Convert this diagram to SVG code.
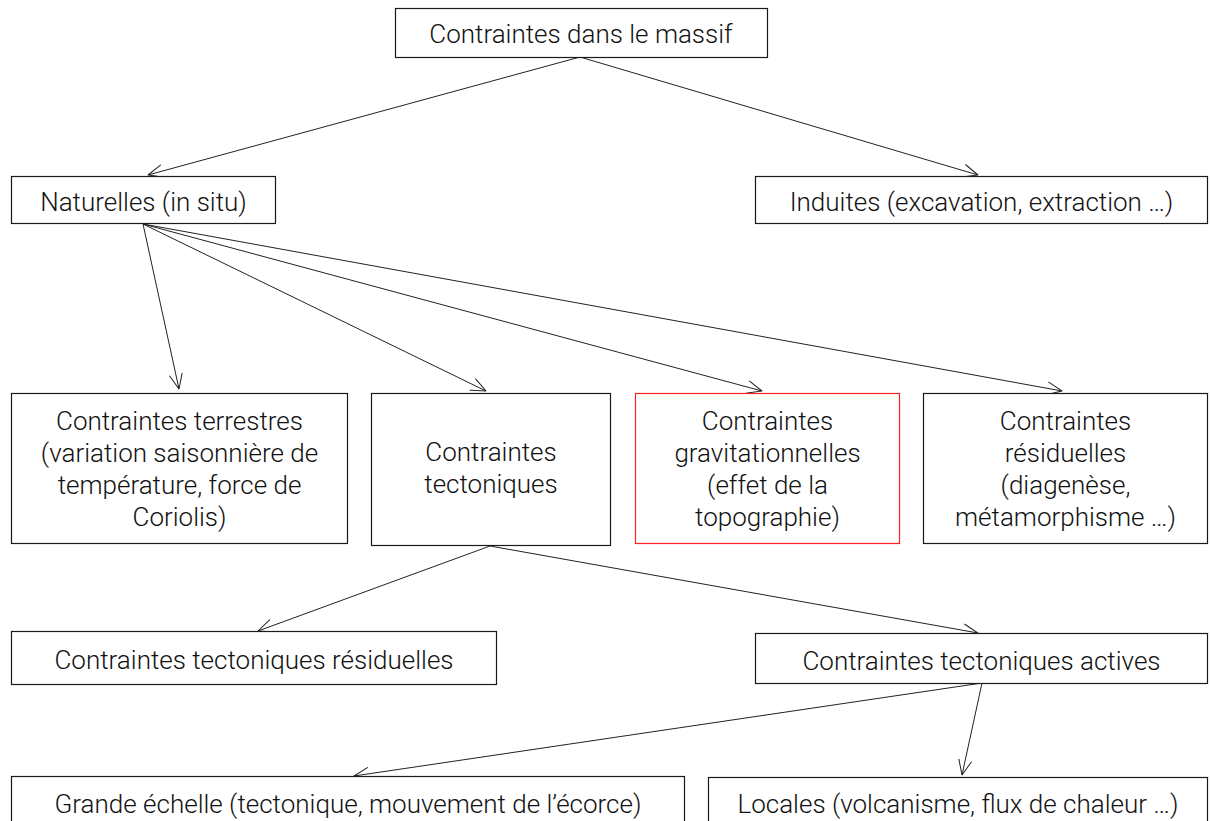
<svg xmlns="http://www.w3.org/2000/svg" width="1211" height="821" viewBox="0 0 1211 821">
<defs>
<style>
.box{fill:#fff;stroke:#1a1a1a;stroke-width:1.2}
.red{fill:#fff;stroke:#ff2020;stroke-width:1.2}
text{font-family:Roboto,"Liberation Sans",Arial,sans-serif;font-weight:300;font-size:26px;fill:#111;text-anchor:middle}
.edge{stroke:#222;stroke-width:1;fill:none;marker-end:url(#arr)}
</style>
<marker id="arr" viewBox="0 0 16 14" refX="15.5" refY="7" markerWidth="16" markerHeight="14" markerUnits="userSpaceOnUse" orient="auto">
<path d="M0.5,0.5 L15.5,7 L0.5,13.5" fill="none" stroke="#222" stroke-width="1"/>
</marker>
</defs>
<rect width="1211" height="821" fill="#fff"/>
<g id="connectors">
<line class="edge" x1="580" y1="57" x2="148" y2="175"/>
<line class="edge" x1="580" y1="57" x2="978" y2="175"/>
<line class="edge" x1="143" y1="224" x2="179" y2="389"/>
<line class="edge" x1="143" y1="224" x2="486" y2="391"/>
<line class="edge" x1="143" y1="224" x2="762" y2="391"/>
<line class="edge" x1="143" y1="224" x2="1062" y2="391"/>
<line class="edge" x1="490" y1="546" x2="258" y2="631"/>
<line class="edge" x1="490" y1="546" x2="978" y2="633"/>
<line class="edge" x1="982" y1="683" x2="354" y2="776"/>
<line class="edge" x1="982" y1="683" x2="962" y2="775"/>
</g>
<g id="n-root">
<rect class="box" x="395.5" y="8.5" width="372" height="49"/>
<text x="581" y="43">Contraintes dans le massif</text>
</g>
<g id="n-naturelles">
<rect class="box" x="11.5" y="176.5" width="264" height="47"/>
<text x="143.5" y="211">Naturelles (in situ)</text>
</g>
<g id="n-induites">
<rect class="box" x="755.5" y="176.5" width="452" height="47"/>
<text x="981.5" y="211">Induites (excavation, extraction …)</text>
</g>
<g id="n-terrestres">
<rect class="box" x="11.5" y="393.5" width="336" height="150"/>
<text x="179.5" y="430">Contraintes terrestres</text>
<text x="179.5" y="462">(variation saisonnière de</text>
<text x="179.5" y="494">température, force de</text>
<text x="179.5" y="526">Coriolis)</text>
</g>
<g id="n-tectoniques">
<rect class="box" x="371.5" y="393.5" width="239" height="152"/>
<text x="491" y="461">Contraintes</text>
<text x="491" y="493">tectoniques</text>
</g>
<g id="n-gravitationnelles">
<rect class="red" x="635.5" y="393.5" width="264" height="150"/>
<text x="767.5" y="430">Contraintes</text>
<text x="767.5" y="462">gravitationnelles</text>
<text x="767.5" y="494">(effet de la</text>
<text x="767.5" y="526">topographie)</text>
</g>
<g id="n-residuelles">
<rect class="box" x="923.5" y="393.5" width="284" height="150"/>
<text x="1065.5" y="430">Contraintes</text>
<text x="1065.5" y="462">résiduelles</text>
<text x="1065.5" y="494">(diagenèse,</text>
<text x="1065.5" y="526">métamorphisme …)</text>
</g>
<g id="n-tect-residuelles">
<rect class="box" x="11.5" y="631.5" width="485" height="53"/>
<text x="254" y="669">Contraintes tectoniques résiduelles</text>
</g>
<g id="n-tect-actives">
<rect class="box" x="755.5" y="633.5" width="452" height="50"/>
<text x="981.5" y="670">Contraintes tectoniques actives</text>
</g>
<g id="n-grande">
<rect class="box" x="11.5" y="776.5" width="673" height="53"/>
<text x="348" y="813">Grande échelle (tectonique, mouvement de l’écorce)</text>
</g>
<g id="n-locales">
<rect class="box" x="708.5" y="777.5" width="499" height="53"/>
<text x="958" y="813">Locales (volcanisme, flux de chaleur …)</text>
</g>
</svg>
